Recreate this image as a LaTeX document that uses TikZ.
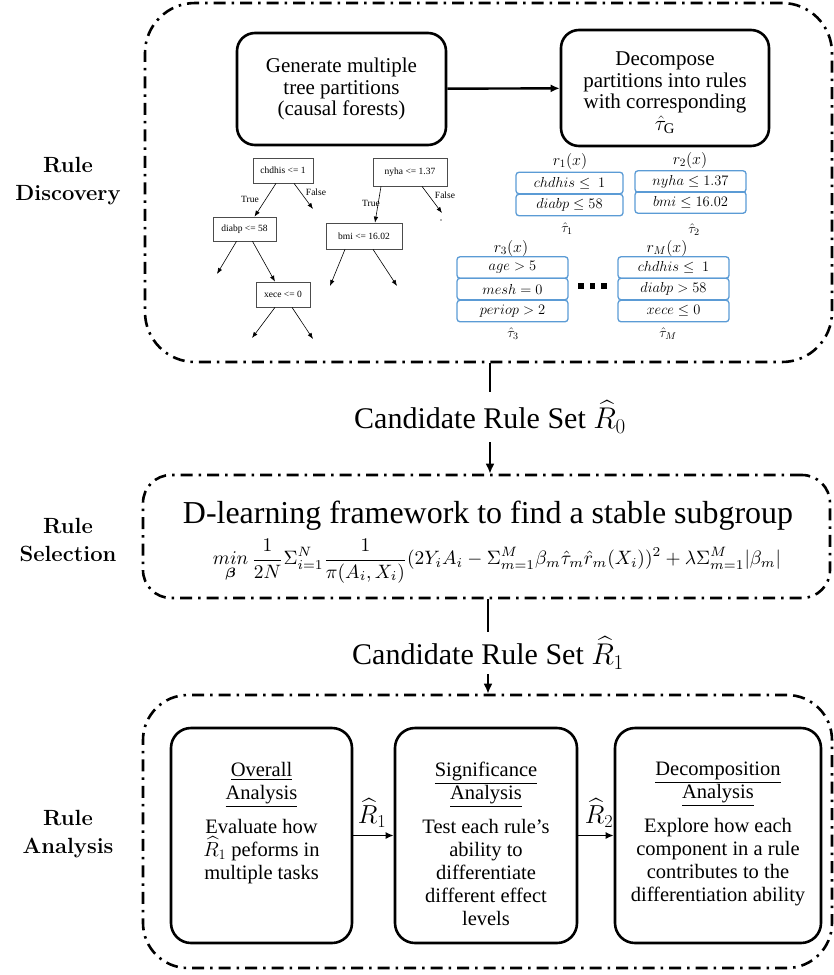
\RequirePackage{fix-cm}
\documentclass[tikz,border=0pt]{standalone}
\usepackage{amsmath}
\usepackage{graphicx}
\usepackage{fontspec}
\setmainfont{Liberation Serif}
\usetikzlibrary{arrows.meta}
\newfontfamily\treefont{Liberation Serif}
\newfontfamily\lmfont{Latin Modern Roman}
\definecolor{ruleblue}{RGB}{91,155,213}
\begin{document}
\begin{tikzpicture}[x=1pt,y=-1pt,
  dashdot/.style={draw, line width=2.6pt, dash pattern=on 12pt off 6pt on 2.5pt off 6pt, inner sep=0},
  sidelabel/.style={font=\lmfont\bfseries\fontsize{22}{28}\selectfont, align=center},
  procbox/.style={draw, line width=2.6pt, rounded corners=18pt, align=center, inner sep=0, font=\fontsize{21}{21.5}\selectfont},
  treenode/.style={draw=black!70, line width=0.7pt, inner sep=0, font=\treefont\fontsize{9.5}{11}\selectfont},
  treelbl/.style={inner sep=0, font=\treefont\fontsize{9.5}{11}\selectfont},
  treearrow/.style={-{Latex[length=6pt,width=4.5pt]}, line width=0.6pt},
  rulebox/.style={draw=ruleblue, line width=1.3pt, rounded corners=3pt, minimum height=21.5pt, inner sep=0, font=\fontsize{14.5}{16}\selectfont},
  rulelbl/.style={inner sep=0, font=\fontsize{16}{18}\selectfont},
  taulbl/.style={inner sep=0, font=\fontsize{14}{16}\selectfont},
  cand/.style={inner sep=0, font=\fontsize{30}{32}\selectfont},
  conn/.style={line width=2.4pt},
  connarrow/.style={line width=2.4pt, -{Latex[length=10pt,width=9pt]}},
  anbox/.style={draw, line width=2.6pt, rounded corners=20pt, inner sep=0},
  antext/.style={inner sep=0, align=center, font=\fontsize{20.5}{23}\selectfont},
  anarrow/.style={line width=1.6pt, -{Latex[length=8pt,width=7pt]}},
  rhat/.style={inner sep=0, font=\fontsize{26}{28}\selectfont}
]
\useasboundingbox (0,0) rectangle (834,975);

% ---------- outer containers ----------
\node[dashdot, rounded corners=50pt, minimum width=687pt, minimum height=359pt] (disc) at (488.5,182.5) {};
\node[dashdot, rounded corners=28pt, minimum width=687pt, minimum height=123pt] (sel) at (486.5,536.5) {};
\node[dashdot, rounded corners=45pt, minimum width=689pt, minimum height=273pt] (ana) at (487.5,831.5) {};

% ---------- side labels ----------
\node[sidelabel] (lab1) at (68,181) {Rule\\Discovery};
\node[sidelabel] (lab2) at (68,540) {Rule\\Selection};
\node[sidelabel] (lab3) at (68,834) {Rule\\Analysis};

% ---------- rule discovery ----------
\node[procbox, minimum width=209pt, minimum height=112pt] (gen) at (341.5,89) {Generate multiple\\tree partitions\\(causal forests)};
\node[procbox, minimum width=208pt, minimum height=116pt] (dec) at (665,88) {\rule{0pt}{23pt}Decompose\\partitions into rules\\with corresponding\\$\hat{\tau}_{\mathrm{G}}$};
\draw[line width=2.4pt, -{Latex[length=9pt,width=8pt]}] (gen) -- (dec);

% trees
\node[treenode, minimum width=60pt, minimum height=25pt] (t1) at (283,170.5) {chdhis <= 1};
\node[treenode, minimum width=74pt, minimum height=28pt] (t2) at (410,172) {nyha <= 1.37};
\node[treenode, minimum width=63pt, minimum height=24pt] (t3) at (244.5,229) {diabp <= 58};
\node[treenode, minimum width=76pt, minimum height=26pt] (t4) at (364,236) {bmi <= 16.02};
\node[treenode, minimum width=54pt, minimum height=25pt] (t5) at (283,294.5) {xece <= 0};

\coordinate (f1) at (313,209);
\coordinate (f2) at (442,213);
\coordinate (c3l) at (217,274);
\coordinate (c4l) at (330,286);
\coordinate (c4r) at (397,286);
\coordinate (c5l) at (252,338);
\coordinate (c5r) at (313,339);

\draw[treearrow] ([xshift=-7pt]t1.south) -- ([xshift=10pt]t3.north);
\draw[treearrow] ([xshift=11pt]t1.south) -- (f1);
\draw[treearrow] ([xshift=-29pt]t2.south) -- ([xshift=11pt]t4.north);
\draw[treearrow] ([xshift=12pt]t2.south) -- (f2);
\draw[treearrow] ([xshift=-8pt]t3.south) -- (c3l);
\draw[treearrow] ([xshift=8pt]t3.south) -- ([xshift=-8pt]t5.north);
\draw[treearrow] ([xshift=-19pt]t4.south) -- (c4l);
\draw[treearrow] ([xshift=9pt]t4.south) -- (c4r);
\draw[treearrow] ([xshift=-8pt]t5.south) -- (c5l);
\draw[treearrow] ([xshift=9pt]t5.south) -- (c5r);
\fill[black!60] (441,220) circle (0.8pt);

\node[treelbl] (lt1) at (250,199) {True};
\node[treelbl] (lf1) at (316,192) {False};
\node[treelbl] (lt2) at (371,203) {True};
\node[treelbl] (lf2) at (445,195) {False};

% rule boxes
\node[rulebox, minimum width=107pt] (r1a) at (569.5,183) {$chdhis \leq\ 1$};
\node[rulebox, minimum width=107pt] (r1b) at (569.5,205) {$diabp \leq 58$};
\node[rulebox, minimum width=111pt] (r2a) at (690.5,181.5) {$nyha \leq 1.37$};
\node[rulebox, minimum width=111pt] (r2b) at (690.5,202.5) {$bmi \leq 16.02$};
\node[rulebox, minimum width=111pt] (r3a) at (512.5,267.5) {$age > 5$};
\node[rulebox, minimum width=111pt] (r3b) at (512.5,289) {$mesh = 0$};
\node[rulebox, minimum width=111pt] (r3c) at (512.5,311) {$periop > 2$};
\node[rulebox, minimum width=111pt] (rMa) at (673.5,267.5) {$chdhis \leq\ 1$};
\node[rulebox, minimum width=111pt] (rMb) at (673.5,289) {$diabp > 58$};
\node[rulebox, minimum width=111pt] (rMc) at (673.5,311) {$xece \leq 0$};

\node[rulelbl] (r1l) at (570,161) {$r_1(x)$};
\node[rulelbl] (r2l) at (690,160) {$r_2(x)$};
\node[rulelbl] (r3l) at (511,248) {$r_3(x)$};
\node[rulelbl] (rMl) at (667,248) {$r_M(x)$};
\node[taulbl] (tau1) at (567,229) {$\hat{\tau}_1$};
\node[taulbl] (tau2) at (694,230) {$\hat{\tau}_2$};
\node[taulbl] (tau3) at (513,334) {$\hat{\tau}_3$};
\node[taulbl] (tauM) at (668,334) {$\hat{\tau}_M$};

\fill (578,283) rectangle (583.5,288.5);
\fill (589.5,283) rectangle (595,288.5);
\fill (601,283) rectangle (606.5,288.5);

% ---------- candidate R0 ----------
\node[cand, minimum height=50pt] (c0) at (490,417) {Candidate Rule Set $\widehat{R}_0$};
\draw[conn] (disc.south -| c0.north) -- (c0.north);
\draw[connarrow] (c0.south) -- (sel.north -| c0.south);

% ---------- rule selection ----------
\node[inner sep=0, font=\fontsize{30}{32}\selectfont] (dl) at (488,516) {\resizebox{610pt}{!}{D-learning framework to find a stable subgroup}};
\node[inner sep=0] (form) at (497,561) {\resizebox{568pt}{!}{$\displaystyle \mathop{min}\limits_{\boldsymbol{\beta}}\frac{1}{2N}\Sigma_{i=1}^{N}\frac{1}{\pi(A_i,X_i)}(2Y_iA_i-\Sigma_{m=1}^{M}\beta_m\hat{\tau}_m\hat{r}_m(X_i))^2+\lambda\Sigma_{m=1}^{M}|\beta_m|$}};

% ---------- candidate R1 ----------
\node[cand, minimum height=42pt] (c1) at (488,653) {Candidate Rule Set $\widehat{R}_1$};
\draw[conn] (sel.south -| c1.north) -- (c1.north);
\draw[connarrow] (c1.south) -- (ana.north -| c1.south);

% ---------- rule analysis ----------
\node[anbox, minimum width=181pt, minimum height=215pt] (ov) at (261.5,835.5) {};
\node[anbox, minimum width=182pt, minimum height=215pt] (sig) at (486,835.5) {};
\node[anbox, minimum width=206pt, minimum height=215pt] (dcp) at (718,835.5) {};

\node[antext, anchor=north] (ovt) at ([yshift=-35pt]ov.north) {\underline{Overall}\\\underline{Analysis}\\[11pt]Evaluate how\\$\widehat{R}_1$ peforms in\\multiple tasks};
\node[antext, anchor=north] (sigt) at ([yshift=-35pt]sig.north) {\underline{Significance}\\\underline{Analysis}\\[11pt]Test each rule’s\\ability to\\differentiate\\different effect\\levels};
\node[antext, anchor=north] (dcpt) at ([yshift=-35pt]dcp.north) {\underline{Decomposition}\\\underline{Analysis}\\[11pt]Explore how each\\component in a rule\\contributes to the\\differentiation ability};

\draw[anarrow] (ov.east) -- (sig.west);
\draw[anarrow] (sig.east) -- (dcp.west);
\node[rhat] (rh1) at (372,813) {$\widehat{R}_1$};
\node[rhat] (rh2) at (599,813) {$\widehat{R}_2$};
\end{tikzpicture}
\end{document}
